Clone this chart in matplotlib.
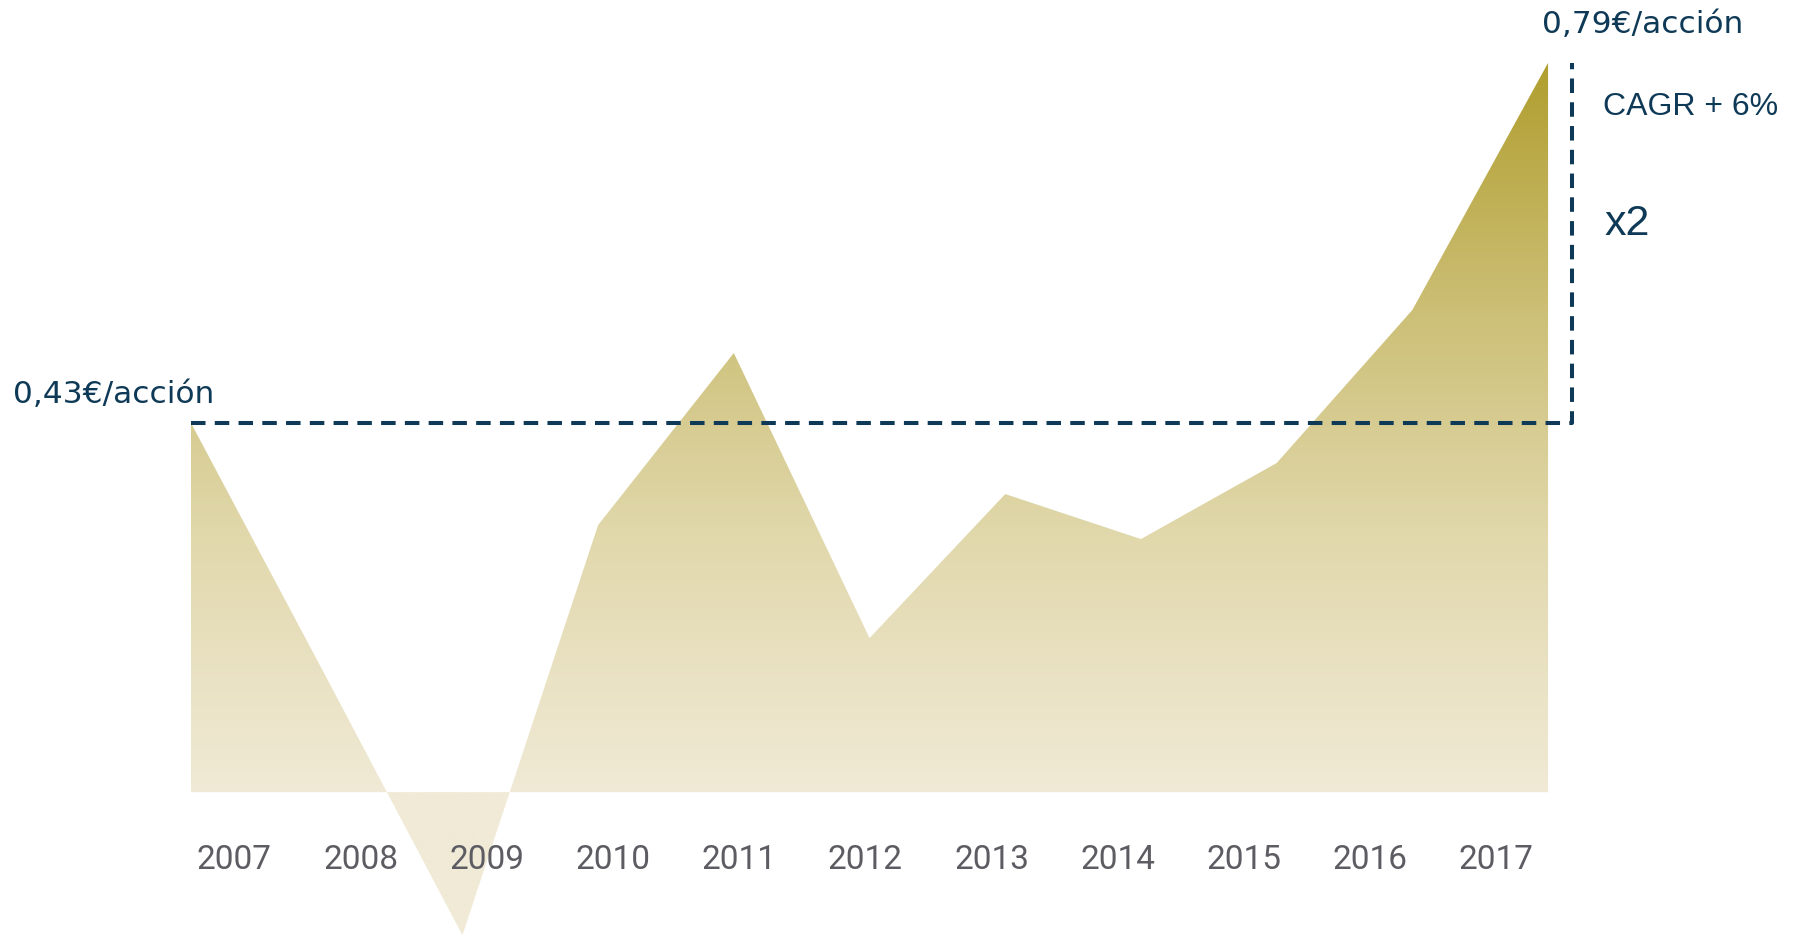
import numpy as np
import matplotlib
matplotlib.use("Agg")
import matplotlib.pyplot as plt

# dividend per share, stylised area chart
years = [2007, 2008, 2009, 2010, 2011, 2012, 2013, 2014, 2015, 2016, 2017]
dps = [0.43, 0.175, -0.082, 0.328, 0.500, 0.215, 0.359, 0.314, 0.390, 0.543, 0.79]
baseline = 0.061

cagr_text = "CAGR + 6%"
mult_text = "x2"

navy = "#0f3a57"
grey = "#5d5c63"
# gradient stops (fraction from top of the area down to the baseline)
grad_pos = [0.0, 0.35, 0.65, 1.0]
grad_rgb = np.array([[176, 158, 46], [205, 192, 120], [225, 216, 172], [240, 234, 214]]) / 255


def euro(v):
    return f"{v:.2f}".replace(".", ",") + "€/acción"


W, H = 1793, 936
fig = plt.figure(figsize=(W / 100, H / 100), dpi=100)
ax = fig.add_axes([0, 0, 1, 1])
ax.set_xlim(-1.4075, 11.805)
ax.set_ylim(-0.0828, 0.8529)
ax.axis("off")

x = np.arange(len(years))
poly = ax.fill_between(x, dps, baseline, facecolor="none", edgecolor="none")

# vertical gradient, clipped to the area
top = max(dps)
ys = np.linspace(top, min(dps), 600)
frac = np.clip((top - ys) / (top - baseline), 0, 1)
img = np.stack([np.interp(frac, grad_pos, grad_rgb[:, c]) for c in range(3)], axis=-1)
im = ax.imshow(img[:, None, :], extent=[x[0], x[-1], ys[-1], ys[0]],
               aspect="auto", interpolation="bilinear", zorder=1)
im.set_clip_path(poly.get_paths()[0], transform=ax.transData)

# dashed reference lines: start level and the jump to the final value
x_vert = x[-1] + 0.18
ax.plot([x[0], x_vert, x_vert], [dps[0], dps[0], dps[-1]], color=navy, lw=2.9,
        linestyle=(0, (3.6, 2.3)), zorder=3)

# value labels
fig.text(13 / W, 1 - 403 / H, euro(dps[0]), color=navy, fontsize=22.5,
         family="DejaVu Sans", ha="left", va="baseline")
fig.text(1542 / W, 1 - 33 / H, euro(dps[-1]), color=navy, fontsize=22.5,
         family="DejaVu Sans", ha="left", va="baseline")
fig.text(1603 / W, 1 - 115 / H, cagr_text, color=navy, fontsize=23,
         family="Liberation Sans", ha="left", va="baseline")
fig.text(1605 / W, 1 - 235 / H, mult_text, color=navy, fontsize=31,
         family="Liberation Sans", ha="left", va="baseline")

# year labels sit on their own slightly tighter spacing
label_y = -0.016
for i, yr in enumerate(years):
    ax.text(0.32 + 0.93 * i, label_y, str(yr), color=grey, fontsize=24,
            family=["Roboto", "DejaVu Sans"],
            ha="center", va="baseline")

fig.savefig("out.png", dpi=100, facecolor="white")
